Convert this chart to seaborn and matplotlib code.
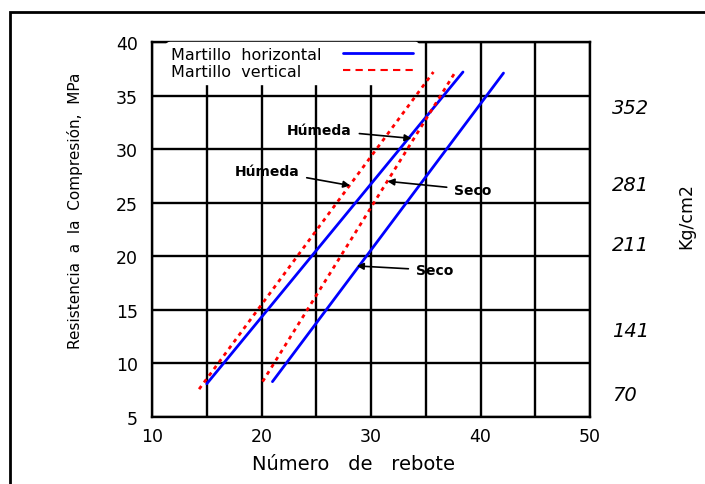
import matplotlib
matplotlib.use("Agg")
import matplotlib.pyplot as plt
from matplotlib.lines import Line2D
from matplotlib.patches import Rectangle
import seaborn as sns
import pandas as pd

# ---- data ----
rebote_h_humeda = [15.0, 38.4]
mpa_h_humeda = [8.1, 37.2]
rebote_h_seco = [21.0, 42.1]
mpa_h_seco = [8.3, 37.1]
rebote_v_humeda = [14.3, 35.7]
mpa_v_humeda = [7.6, 37.2]
rebote_v_seco = [20.1, 37.7]
mpa_v_seco = [8.3, 37.2]

kg_labels = ["352", "281", "211", "141", "70"]
kg_positions = [34.1, 26.9, 21.3, 13.3, 7.3]

x_ticks = [10, 20, 30, 40, 50]
y_ticks = [5, 10, 15, 20, 25, 30, 35, 40]

legend_labels = ["Martillo  horizontal", "Martillo  vertical"]

# annotations: text, text position (x, y), arrow head (x, y)
ann_texts = ["Húmeda", "Húmeda", "Seco", "Seco"]
ann_text_xy = [(25.3, 31.8), (20.5, 28.0), (39.3, 26.2), (35.8, 18.7)]
ann_head_xy = [(33.7, 31.0), (28.1, 26.6), (31.5, 27.0), (28.7, 19.1)]

sns.set_theme(style="white")
plt.rcParams["font.family"] = ["DejaVu Sans"]
plt.rcParams["text.color"] = "black"
plt.rcParams["axes.labelcolor"] = "black"

fig = plt.figure(figsize=(7.05, 4.85), dpi=100)
ax = fig.add_axes([152 / 705, 1 - 418 / 485, (590 - 152) / 705, (418 - 43) / 485])

# outer frame
fig.patches.append(Rectangle((10 / 705, -0.1), 1.2, 1 - 13 / 485 + 0.1,
                             transform=fig.transFigure, fill=False,
                             edgecolor="black", lw=2, zorder=0))

blue = "#0000ff"
red = "#ff0000"
dots = (0, (1.4, 1.6))

series = [
    (rebote_h_humeda, mpa_h_humeda, blue, "-"),
    (rebote_h_seco, mpa_h_seco, blue, "-"),
    (rebote_v_humeda, mpa_v_humeda, red, dots),
    (rebote_v_seco, mpa_v_seco, red, dots),
]
for xs, ys, col, ls in series:
    df = pd.DataFrame({"x": xs, "y": ys})
    sns.lineplot(data=df, x="x", y="y", ax=ax, color=col, lw=2, zorder=3,
                 legend=False)
    ax.lines[-1].set_linestyle(ls)

ax.set_xlim(10, 50)
ax.set_ylim(5, 40)
ax.set_xticks(range(10, 51, 5))
ax.set_xticklabels([str(v) if v in x_ticks else "" for v in range(10, 51, 5)])
ax.set_yticks(y_ticks)
ax.set_yticklabels([str(v) for v in y_ticks])
ax.grid(True, color="black", lw=1.7)
ax.set_axisbelow(True)
for s in ax.spines.values():
    s.set_color("black")
    s.set_linewidth(1.7)
ax.tick_params(axis="both", length=0, labelsize=12.5, colors="black")
ax.tick_params(axis="x", pad=7)
ax.tick_params(axis="y", pad=10)
ax.set_xlabel("Número   de   rebote", fontsize=14)
ax.xaxis.set_label_coords(0.461, -0.1)
ax.set_ylabel("Resistencia  a  la  Compresión,  MPa", fontsize=11)
ax.yaxis.set_label_coords(-0.1575, 0.552)

# right axis labels
ax2 = ax.twinx()
ax2.set_ylim(ax.get_ylim())
ax2.set_yticks(kg_positions)
ax2.set_yticklabels(kg_labels, fontsize=14, style="italic", color="black")
ax2.tick_params(axis="y", length=0, pad=16)
ax2.grid(False)
for s in ax2.spines.values():
    s.set_visible(False)
ax2.set_ylabel("Kg/cm2", fontsize=12.5)
ax2.yaxis.set_label_coords(1.199, 0.539)

# legend (pad shorter label so texts start at the same x)
pad_labels = [legend_labels[0], legend_labels[1] + "    "]
handles = [Line2D([0], [0], color=blue, lw=2),
           Line2D([0], [0], color=red, lw=1.5, ls=(0, (3.5, 2.5)))]
leg = ax.legend(handles, pad_labels, loc="upper left",
                bbox_to_anchor=(0.033, 1.0),
                markerfirst=False, frameon=True, fontsize=11.5, handlelength=4.4,
                handletextpad=1.3, borderaxespad=0.0, borderpad=0.3,
                labelspacing=0.12)
leg.get_frame().set_facecolor("white")
leg.get_frame().set_edgecolor("white")
leg.get_frame().set_alpha(1)
leg.set_zorder(5)

for t, txy, hxy in zip(ann_texts, ann_text_xy, ann_head_xy):
    ax.annotate(t, xy=hxy, xytext=txy, ha="center", va="center",
                fontsize=10, fontweight="bold",
                arrowprops=dict(arrowstyle="-|>", color="black", lw=1.2,
                                shrinkA=3, shrinkB=0, mutation_scale=10),
                zorder=6)

fig.savefig("out.png", dpi=100)
